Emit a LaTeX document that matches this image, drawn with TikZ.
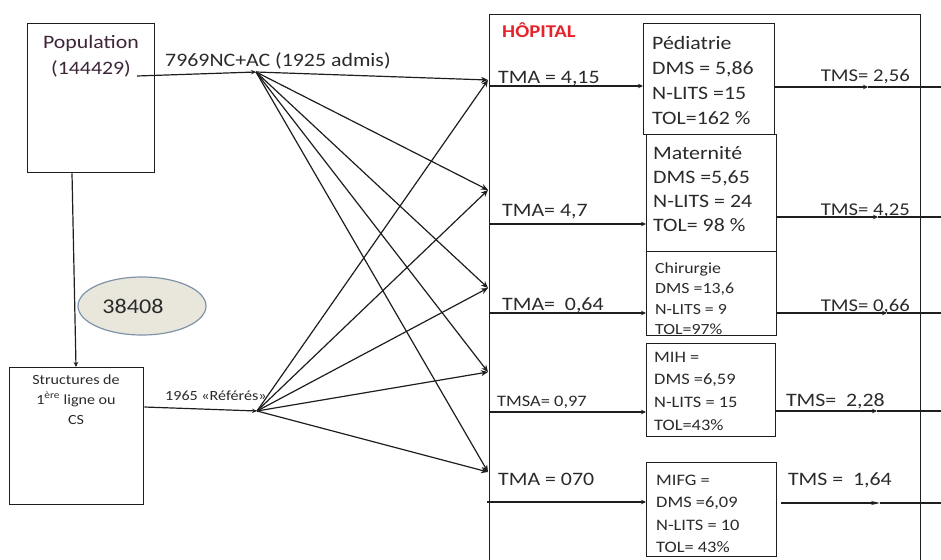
\documentclass[tikz,border=0pt]{standalone}
\usepackage{fontspec}
\setmainfont[FakeStretch=1.15]{Carlito}
\usetikzlibrary{arrows.meta,shapes.geometric}
\definecolor{ink}{HTML}{1E1E1E}
\definecolor{txt}{HTML}{2A2A2A}
\definecolor{poptxt}{HTML}{3E2438}
\definecolor{hopred}{HTML}{E5232B}
\definecolor{ellfill}{HTML}{E9E7DC}
\definecolor{elldraw}{HTML}{7F93A8}
\newcommand{\fsz}[2]{\fontsize{#1}{#2}\selectfont}
\newcommand{\lstack}[1]{\begin{tabular}[t]{@{}l@{}}#1\end{tabular}}
\newcommand{\cstack}[1]{\begin{tabular}[t]{@{}c@{}}#1\end{tabular}}
\begin{document}
\begin{tikzpicture}[x=1pt,y=-1pt,
  box/.style={draw=ink, line width=1.3pt, inner sep=0pt, anchor=north west},
  conn/.style={draw=ink, line width=1.2pt},
  arr/.style={conn, -{Stealth[length=7pt,width=6pt]}},
  tip/.style={conn, -{Stealth[length=5pt,width=4.5pt]}},
  lbl/.style={inner sep=0pt, anchor=base west, text=txt},
  rlbl/.style={inner sep=0pt, anchor=base east, text=txt},
  dept/.style={inner sep=0pt, anchor=base west, text=txt},
]
\useasboundingbox (0,0) rectangle (941,559);

% left side boxes
\node[box, minimum width=127pt, minimum height=149pt] (pop) at (27,23) {};
\node[inner sep=0pt, anchor=base, text=poptxt, font=\fsz{19}{26}] (popt) at (91,49) {\cstack{Population\\(144429)}};
\coordinate (popout) at (137,76);

\node[box, minimum width=134pt, minimum height=137pt] (struct) at (9,367) {};
\node[inner sep=0pt, anchor=base, text=txt, font=\fsz{14}{20}] (structt) at (76,384) {\cstack{Structures de\\1\textsuperscript{ère} ligne ou\\CS}};

\node[ellipse, draw=elldraw, fill=ellfill, line width=1.2pt, minimum width=128pt, minimum height=58pt, inner sep=0pt, text=txt, font=\fsz{21}{25}] (ell) at (142,306) {\hspace{-18pt}38408};

% junctions
\coordinate (J1) at (256,72);
\coordinate (J2) at (257,411);

% hospital frame
\node[box, minimum width=431pt, minimum height=575pt] (hop) at (489,14) {};
\node[lbl, text=hopred, font=\fsz{18}{20}\bfseries] (hoplbl) at (502,38) {HÔPITAL};

% targets on hospital edge
\coordinate (t1) at (488,80);
\coordinate (t2) at (488,190);
\coordinate (t3) at (488,288);
\coordinate (t4) at (488,372);
\coordinate (t5) at (488,472);

% connectors on the left
\draw[tip] (popout) -- (J1);
\node[lbl, font=\fsz{19}{22}] (admis) at (165,67) {7969NC+AC (1925 admis)};
\draw[tip] ([xshift=45pt]pop.south west) -- ([xshift=67pt]struct.north west);
\draw[tip] ([shift={(0,40)}]struct.north east) -- (J2);
\node[lbl, font=\fsz{14}{18}] (refer) at (165,400) {1965 «Référés»};

\foreach \t in {t1,t2,t3,t4,t5} {
  \draw[arr] (J1) -- (\t);
  \draw[arr] (J2) -- (\t);
}

% departments
\node[box, minimum width=131pt, minimum height=111pt] (ped) at (643,23) {};
\node[box, minimum width=130pt, minimum height=117pt] (mat) at (646,134) {};
\node[box, minimum width=130pt, minimum height=84pt] (chir) at (646,251) {};
\node[box, minimum width=129pt, minimum height=93pt] (mih) at (646,343) {};
\node[box, minimum width=130pt, minimum height=94pt] (mifg) at (646,462) {};

\node[dept, font=\fsz{19}{25}] (pedt) at (652,50) {\lstack{Pédiatrie\\DMS = 5,86\\N-LITS =15\\TOL=162 \%}};
\node[dept, font=\fsz{19}{24}] (matt) at (653,159) {\lstack{Maternité\\DMS =5,65\\N-LITS = 24\\TOL= 98 \%}};
\node[dept, font=\fsz{15.5}{20.5}] (chirt) at (655,273) {\lstack{Chirurgie\\DMS =13,6\\N-LITS = 9\\TOL=97\%}};
\node[dept, font=\fsz{16}{22.7}] (miht) at (654,362) {\lstack{MIH =\\DMS =6,59\\N-LITS = 15\\TOL=43\%}};
\node[dept, font=\fsz{16}{22.5}] (mifgt) at (656,485) {\lstack{MIFG =\\DMS =6,09\\N-LITS = 10\\TOL= 43\%}};

% inner arrows (left)
\draw[tip] (hop.west |- 0,86) -- (ped.west |- 0,86);
\draw[tip] (hop.west |- 0,224) -- (mat.west |- 0,224);
\draw[tip] (hop.west |- 0,313) -- (chir.west |- 0,313);
\draw[tip] (hop.west |- 0,412) -- (mih.west |- 0,412);
\draw[tip] ([xshift=-2pt]hop.west |- 0,502) -- (mifg.west |- 0,502);

\node[lbl, font=\fsz{19}{22}] (tma1) at (498,84) {TMA = 4,15};
\node[lbl, font=\fsz{19}{22}] (tma2) at (502,216) {TMA= 4,7};
\node[lbl, font=\fsz{19}{22}] (tma3) at (502,310) {TMA=\ \ 0,64};
\node[lbl, font=\fsz{16}{20}] (tma4) at (497,406) {TMSA= 0,97};
\node[lbl, font=\fsz{19}{22}] (tma5) at (498,485) {TMA = 070};

% outputs (right)
\coordinate (m1) at (868,87);  \coordinate (r1) at (941,87);
\coordinate (m2) at (878,217); \coordinate (r2) at (941,217);
\coordinate (m3) at (887,313); \coordinate (r3) at (941,313);
\coordinate (m4) at (877,411); \coordinate (r4) at (941,411);
\coordinate (m5) at (880,503); \coordinate (r5) at (941,503);
\draw[tip] (ped.east |- m1) -- (m1);  \draw[conn] (m1) -- (r1);
\draw[tip] (mat.east |- m2) -- (m2);  \draw[conn] (m2) -- (r2);
\draw[tip] (chir.east |- m3) -- (m3); \draw[conn] (m3) -- (r3);
\draw[tip] (mih.east |- m4) -- (m4);  \draw[conn] (m4) -- (r4);
\draw[conn, -{Stealth[length=9pt,width=4pt]}] ([xshift=4pt]mifg.east |- m5) -- (m5); \draw[conn] (m5) -- (r5);

\node[rlbl, font=\fsz{18}{22}] (tms1) at (910,82) {TMS= 2,56};
\node[rlbl, font=\fsz{18}{22}] (tms2) at (910,215) {TMS= 4,25};
\node[rlbl, font=\fsz{18}{22}] (tms3) at (910,311) {TMS= 0,66};
\node[rlbl, font=\fsz{19}{22}] (tms4) at (885,406) {TMS=\ \ 2,28};
\node[rlbl, font=\fsz{19}{22}] (tms5) at (892,485) {TMS =\ \ 1,64};
\end{tikzpicture}
\end{document}
